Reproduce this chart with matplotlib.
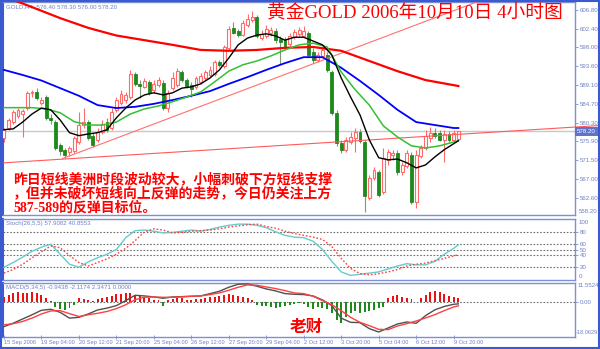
import matplotlib
matplotlib.use('Agg')
import matplotlib.pyplot as plt
import matplotlib.transforms as mtransforms
from matplotlib.patches import Rectangle
import numpy as np

# ---------------- data ----------------
opens = [576.7, 579.0, 580.4, 581.9, 582.3, 583.7, 587.3, 587.5, 584.9, 586.3,
         581.4, 580.4, 575.0, 573.9, 573.4, 573.6, 575.7, 579.7, 580.4, 577.2,
         576.2, 578.1, 580.4, 579.0, 583.3, 584.9, 585.6, 586.3, 591.7, 589.4,
         588.7, 589.9, 588.0, 589.2, 589.6, 583.7, 588.4, 589.2, 592.2, 590.3,
         589.2, 588.7, 589.9, 590.8, 591.5, 591.7, 594.6, 593.6, 597.9, 602.6,
         601.9, 600.9, 603.3, 604.5, 605.2, 600.2, 600.7, 601.4, 601.9, 600.0,
         599.7, 598.8, 600.4, 601.2, 600.7, 601.4, 596.9, 595.0, 596.0, 596.2,
         592.2, 582.6, 575.5, 573.9, 575.7, 576.7, 578.1, 575.7, 562.6, 567.3,
         568.7, 564.0, 571.5, 572.7, 573.2, 568.7, 570.1, 572.7, 561.6, 572.4,
         574.3, 576.7, 577.9, 577.9, 576.2, 577.6, 576.2, 576.4]
closes = [578.6, 580.9, 582.8, 583.3, 583.0, 587.3, 587.5, 586.1, 585.6, 581.4,
          580.9, 574.3, 573.6, 572.7, 574.3, 576.7, 579.7, 580.4, 576.7, 575.0,
          578.1, 580.0, 578.6, 582.8, 585.6, 587.0, 586.8, 591.7, 589.4, 588.9,
          590.1, 587.3, 589.4, 590.3, 583.7, 587.3, 590.8, 592.4, 590.3, 588.9,
          588.2, 590.8, 591.3, 592.2, 592.7, 594.6, 593.9, 598.1, 602.3, 601.4,
          600.9, 603.7, 604.7, 605.2, 600.7, 601.2, 602.3, 602.1, 599.7, 599.3,
          598.3, 600.7, 601.6, 602.1, 601.9, 596.2, 595.0, 596.2, 597.4, 592.7,
          582.6, 575.5, 573.9, 576.2, 576.9, 578.1, 576.0, 563.0, 567.3, 569.2,
          563.3, 572.0, 573.4, 573.2, 568.7, 570.3, 573.2, 561.6, 572.7, 574.3,
          577.2, 577.9, 577.2, 576.2, 577.6, 576.2, 577.9, 578.2]
highs = [579.0, 581.4, 583.3, 583.7, 583.5, 587.7, 588.0, 588.4, 586.3, 586.8,
         582.3, 580.9, 575.5, 574.3, 574.8, 577.2, 582.8, 583.7, 580.9, 577.9,
         579.0, 580.9, 581.4, 583.7, 586.3, 588.0, 587.5, 592.7, 592.2, 590.3,
         590.8, 590.3, 590.3, 591.0, 590.3, 588.0, 592.2, 593.2, 592.7, 590.8,
         589.9, 591.3, 592.0, 592.7, 593.6, 595.0, 595.0, 598.6, 603.0, 604.0,
         602.3, 604.5, 605.9, 606.6, 605.6, 602.1, 603.3, 602.8, 602.6, 600.7,
         600.4, 601.4, 602.3, 602.8, 603.0, 601.9, 597.9, 596.9, 598.1, 596.9,
         592.7, 583.3, 576.2, 576.9, 578.1, 579.0, 578.8, 576.2, 568.0, 569.9,
         569.2, 574.3, 574.1, 573.9, 573.9, 571.0, 573.9, 573.4, 573.9, 575.0,
         578.6, 579.3, 579.0, 578.6, 578.6, 578.3, 578.6, 578.3]
lows = [575.7, 578.6, 580.0, 581.4, 576.9, 583.3, 586.3, 585.6, 584.4, 580.9,
        580.0, 573.9, 572.7, 572.0, 572.4, 573.2, 575.3, 579.0, 576.2, 574.6,
        575.7, 577.6, 578.1, 578.6, 582.8, 584.4, 584.9, 585.9, 588.9, 586.1,
        588.4, 586.8, 587.3, 588.7, 583.3, 582.8, 588.0, 588.7, 589.9, 588.4,
        586.3, 588.2, 589.4, 590.3, 591.0, 591.3, 593.4, 593.2, 597.4, 601.2,
        600.4, 600.7, 602.8, 604.0, 600.2, 599.7, 600.2, 600.7, 599.0, 594.1,
        597.9, 598.3, 600.0, 600.7, 600.2, 595.7, 594.3, 594.6, 595.5, 592.2,
        582.1, 574.8, 573.2, 573.4, 575.3, 573.4, 575.5, 559.3, 562.1, 566.8,
        562.8, 563.5, 570.3, 571.5, 568.0, 568.0, 569.6, 561.2, 560.2, 572.0,
        573.9, 575.7, 576.7, 576.0, 571.0, 575.7, 576.0, 576.0]

# moving averages (sampled at bar numbers)
red_ma_bars = [0, 6, 12, 18, 24, 30, 36, 42, 48, 54, 60, 66, 72, 78, 84, 90, 97]
red_ma = [610.0, 607.5, 604.9, 602.6, 600.8, 599.7, 598.6, 597.4, 597.2, 597.4,
          597.9, 598.1, 597.2, 594.8, 592.4, 590.3, 588.9]
blue_ma_bars = list(range(0, 97, 4)) + [97]
blue_ma = [592.7, 591.5, 590.2, 588.4, 586.6, 584.4, 583.7, 584.0, 584.7, 585.6,
           586.6, 587.7, 589.4, 591.0, 592.7, 594.3, 595.7, 595.7, 593.2, 590.1,
           586.8, 583.3, 580.4, 579.7, 579.0, 579.0]
green_ma_bars = list(range(0, 97, 3)) + [97]
green_ma = [583.8, 583.8, 583.8, 583.5, 582.6, 580.5, 579.7, 579.7, 580.4, 582.3,
            583.5, 584.2, 585.2, 586.3, 587.5, 589.9, 592.4, 593.9, 594.8, 596.0,
            597.4, 598.6, 599.0, 598.1, 592.2, 588.0, 584.4, 579.5, 576.9, 574.8,
            574.3, 574.8, 575.7, 576.0]
black_ma_bars = list(range(0, 97, 2)) + [97]
black_ma = [578.6, 578.8, 580.4, 582.3, 583.7, 583.3, 580.9, 577.9, 577.2, 577.6,
            577.9, 578.6, 581.4, 583.7, 585.6, 586.8, 587.3, 586.8, 587.3, 588.4,
            588.7, 589.4, 590.8, 592.7, 595.5, 598.6, 600.2, 600.9, 601.2, 600.7,
            599.7, 600.4, 600.4, 599.5, 598.6, 596.2, 590.8, 586.3, 582.1, 576.2,
            572.0, 571.5, 571.7, 570.8, 569.6, 570.3, 572.2, 573.9, 575.3, 576.0]

# trend lines (bar, price) pairs
trend_low = [(0, 570.8), (127.3, 579.6)]
trend_up = [(12.5, 571.8), (102.1, 609.2)]

# stochastic (26,5,5)
osc_bars = list(range(0, 97, 2)) + [97]
stoch_main = [20, 28, 37, 47, 54, 59, 42, 25, 20, 29, 36, 42, 50, 70, 82, 83, 81, 78, 79, 81,
              83, 81, 84, 88, 91, 93, 93, 91, 87, 80, 74, 71, 70, 64, 50, 30, 12, 6, 8, 10,
              12, 17, 22, 26, 24, 24, 30, 42, 52, 58]
stoch_signal = [10, 16, 25, 36, 46, 56, 53, 40, 28, 22, 28, 34, 42, 52, 65, 80, 85, 83, 78, 79,
                81, 82, 83, 85, 88, 90, 92, 93, 89, 86, 81, 77, 74, 71, 67, 55, 35, 18, 9, 7,
                9, 12, 16, 22, 25, 27, 31, 35, 39, 41]
stoch_levels = [80, 60, 50, 40, 20]

# MACD (5,34,5)
macd_hist = [3.4, 4.4, 5.8, 6.4, 5.8, 5.8, 6.4, 5.8, 4.4, 2.4,
             1.0, -3.0, -4.2, -4.6, -3.6, -1.6, 2.4, 1.8, 1.4, 1.0,
             1.8, 2.4, 3.0, 3.8, 5.0, 5.0, 5.4, 5.4, 4.4, 3.8,
             3.4, 2.4, 1.4, 1.4, -2.2, 1.4, 1.8, 2.4, 2.4, 1.4,
             1.4, 1.8, 2.0, 2.4, 3.0, 3.4, 3.8, 4.4, 5.0, 4.4,
             3.8, 3.0, 2.4, 1.4, -1.6, -2.2, -2.2, -3.0, -3.6, -3.0,
             -2.2, -1.6, -1.0, -0.6, -1.0, -3.0, -4.2, -3.0, -3.6, -4.2,
             -6.6, -10.6, -12.2, -8.6, -6.6, -5.0, -6.6, -6.0, -5.0, -4.6,
             -3.6, -2.6, 2.4, 3.8, 4.4, 3.0, 2.4, 1.8, 0.4, 2.4,
             4.4, 6.4, 7.0, 6.4, 5.0, 3.8, 3.0, 2.35]
macd_line = [-14.6, -12.5, -10.0, -7.5, -4.8, -4.2, -6.0, -9.5, -9.0, -7.0,
             -4.6, -3.5, -2.0, 1.0, 4.2, 3.8, 3.2, 2.4, 3.2, 3.4,
             3.6, 3.8, 5.2, 6.6, 9.0, 10.8, 11.0, 9.6, 8.0, 6.8,
             5.2, 4.8, 4.6, 3.8, 1.4, -2.0, -9.5, -12.0, -12.2, -15.8,
             -17.8, -15.4, -13.0, -11.8, -12.6, -8.0, -4.5, -2.5, -1.2, -0.94]
macd_signal = [-13.5, -12.8, -11.5, -9.5, -7.0, -5.2, -5.0, -6.8, -8.5, -7.5,
               -6.6, -5.5, -3.8, -1.5, 1.5, 3.0, 3.2, 3.0, 3.0, 3.2,
               3.6, 3.8, 4.6, 5.6, 7.2, 9.0, 10.4, 10.2, 9.2, 8.2,
               7.0, 5.6, 5.2, 3.6, 1.0, -1.5, -5.0, -9.0, -12.0, -14.0,
               -16.2, -16.4, -14.2, -12.8, -11.2, -9.4, -7.4, -5.0, -2.8, -2.12]

price_ticks = [606.80, 602.40, 598.00, 593.60, 589.10, 584.70, 580.30, 575.90,
               571.50, 567.00, 562.60]
price_bottom_label = "558.20"
last_price = 578.20
date_tick_bars = [0, 8, 16, 24, 32, 40, 48, 56, 64, 72, 80, 88, 96]
date_labels = ["15 Sep 2006", "19 Sep 04:00", "20 Sep 12:00", "21 Sep 20:00",
               "25 Sep 04:00", "26 Sep 12:00", "27 Sep 20:00", "29 Sep 04:00",
               "2 Oct 12:00", "3 Oct 20:00", "5 Oct 04:00", "6 Oct 12:00",
               "9 Oct 20:00"]

title = "黄金GOLD 2006年10月10日 4小时图"
comment_lines = ["昨日短线美洲时段波动较大，小幅刺破下方短线支撑",
                 "，但并未破坏短线向上反弹的走势，今日仍关注上方",
                 "587-589的反弹目标位。"]
author = "老财"
header_main = "GOLD,H4  576.40 578.30 576.00 578.20"
header_stoch = "Stoch(26,5,5) 57.9082 40.8553"
header_macd = "MACD(5,34,5) -0.9438 -2.1174 2.3471 0.0000"

# ---------------- figure ----------------
W, H = 600, 349
fig = plt.figure(figsize=(6.0, 3.49), dpi=100)
fig.patch.set_facecolor('white')

def box(l, t, r, b):
    return [l / W, 1 - b / H, (r - l) / W, (b - t) / H]

AXC = '#7d8fd6'   # axis / label colour
TXT = '#6f80c4'
LFS = 4.4         # small label font size
XL = (-0.3, 121.9)

ax = fig.add_axes(box(2.5, 2, 575, 215))
ax_s = fig.add_axes(box(2.5, 219, 575, 280))
ax_m = fig.add_axes(box(2.5, 283, 575, 337))

for a in (ax, ax_s, ax_m):
    a.set_xlim(*XL)
    a.set_facecolor('white')
    for sp in a.spines.values():
        sp.set_color(AXC)
        sp.set_linewidth(1.0)
    a.spines['left'].set_color('#3a5ad0')
    a.spines['left'].set_linewidth(1.5)
    a.yaxis.tick_right()
    a.tick_params(axis='y', colors=AXC, labelcolor=TXT, labelsize=LFS, length=2,
                  width=0.6, pad=1.5)

# ---- main panel ----
ax.set_ylim(558.5, 608.7)
idx = np.arange(len(closes))
o = np.array(opens); c = np.array(closes); h = np.array(highs); l = np.array(lows)
up = c >= o
bull = '#ff6a6a'
bear = '#1e8a1e'
ax.vlines(idx[up], l[up], h[up], color=bull, lw=0.8, zorder=2)
ax.vlines(idx[~up], l[~up], h[~up], color='#7a9a7a', lw=0.8, zorder=2)
lo = np.minimum(o, c)
bh = np.maximum(np.abs(c - o), 0.15)
ax.bar(idx[up], bh[up], bottom=lo[up], width=0.62, facecolor='white',
       edgecolor=bull, lw=0.8, zorder=3)
ax.bar(idx[~up], bh[~up], bottom=lo[~up], width=0.62, facecolor=bear,
       edgecolor=bear, lw=0.6, zorder=3)

ax.axhline(last_price, color='#c8c8c8', lw=1.0, zorder=1)
ax.plot(*zip(*trend_low), color='#ff5a5a', lw=0.8, zorder=4, clip_on=False)
ax.plot(*zip(*trend_up), color='#ff7070', lw=0.8, zorder=4)
ax.plot(red_ma_bars, red_ma, color='#ff0000', lw=1.6, zorder=5)
ax.plot(blue_ma_bars, blue_ma, color='#0000ff', lw=1.3, zorder=5)
ax.plot(green_ma_bars, green_ma, color='#33c033', lw=1.1, zorder=5)
ax.plot(black_ma_bars, black_ma, color='#000000', lw=1.0, zorder=6)

ax.set_yticks(price_ticks)
ax.set_yticklabels([f"{v:.2f}" for v in price_ticks], family='Liberation Sans')
ax.set_xticks([])
ytrans = mtransforms.blended_transform_factory(ax.transAxes, ax.transData)
ax.text(1.006, 558.7, price_bottom_label, transform=ytrans, fontsize=LFS,
        color=TXT, va='bottom', ha='left', family='Liberation Sans')
ax.text(1.004, last_price, "578.20", transform=ytrans, fontsize=LFS, color='white',
        va='center', ha='left', family='Liberation Sans', zorder=10,
        bbox=dict(boxstyle='square,pad=0.3', facecolor='#5f73cc', edgecolor='none'),
        clip_on=False)
ax.text(0.006, 0.99, header_main, transform=ax.transAxes, fontsize=4.4,
        color=TXT, va='top', ha='left', family='Liberation Sans')

# ---- stochastic ----
ax_s.set_ylim(-1.7, 101.7)
for lv in stoch_levels:
    ax_s.axhline(lv, color='#707070', lw=0.8, ls=(0, (1.5, 1.5)), zorder=1)
ax_s.plot(osc_bars, stoch_main, color='#66cccc', lw=1.0, zorder=3)
ax_s.plot(osc_bars, stoch_signal, color='#ff4040', lw=1.0, ls=(0, (1.2, 1.4)), zorder=3)
ax_s.set_yticks(stoch_levels)
ax_s.set_yticklabels([str(v) for v in stoch_levels], family='Liberation Sans')
ax_s.set_xticks([])
st = mtransforms.blended_transform_factory(ax_s.transAxes, ax_s.transData)
ax_s.text(1.006, 100, "100", transform=st, fontsize=LFS, color=TXT, va='top',
          family='Liberation Sans')
ax_s.text(1.006, 0, "0", transform=st, fontsize=LFS, color=TXT, va='bottom',
          family='Liberation Sans')
ax_s.text(0.006, 0.97, header_stoch, transform=ax_s.transAxes, fontsize=4.4,
          color=TXT, va='top', ha='left', family='Liberation Sans')

# ---- MACD ----
ax_m.set_ylim(-20.8, 11.55)
hist = np.array(macd_hist)
hi = np.arange(len(hist))
ax_m.bar(hi[hist >= 0], hist[hist >= 0], width=0.42, color='#ee1111', zorder=2)
ax_m.bar(hi[hist < 0], hist[hist < 0], width=0.42, color='#1e8a1e', zorder=2)
ax_m.axhline(0, color='#707070', lw=0.8, ls=(0, (1.5, 1.5)), zorder=1)
ax_m.plot(osc_bars, macd_line, color='#505050', lw=1.0, zorder=3)
ax_m.plot(osc_bars, macd_signal, color='#ff4040', lw=1.0, zorder=3)
ax_m.set_yticks([0])
ax_m.set_yticklabels(["0.00"], family='Liberation Sans')
mt = mtransforms.blended_transform_factory(ax_m.transAxes, ax_m.transData)
ax_m.text(1.004, 11.55, "11.5524", transform=mt, fontsize=LFS, color=TXT, va='top',
          family='Liberation Sans')
ax_m.text(1.001, -18.06, "-18.0629", transform=mt, fontsize=4.1, color=TXT, va='center',
          family='Liberation Sans')
ax_m.text(0.006, 0.97, header_macd, transform=ax_m.transAxes, fontsize=4.4,
          color=TXT, va='top', ha='left', family='Liberation Sans')
ax_m.set_xticks(date_tick_bars)
ax_m.set_xticklabels(date_labels, ha='left', family='Liberation Sans')
ax_m.tick_params(axis='x', colors=AXC, labelcolor=TXT, labelsize=4.1, length=3,
                 width=0.6, pad=1, direction='inout')

# ---- texts ----
fig.text(267 / W, 1 - 14 / H, title, fontsize=13.5, color='#ff0000', va='center',
         ha='left', family=['Liberation Serif', 'Noto Sans CJK SC'])
ys = [179, 193, 208]
for line, yy in zip(comment_lines, ys):
    fig.text(13 / W, 1 - yy / H, line, fontsize=10, color='#ff0000', va='center',
             ha='left', fontweight='bold',
             family=['Liberation Serif', 'Noto Sans CJK SC'])
fig.text(290 / W, 1 - 327 / H, author, fontsize=12, color='#ff0000', va='center',
         ha='left', fontweight='bold', family=['Noto Sans CJK SC'])

# outer frame
fig.patches.append(Rectangle((0.001, 0.002), 0.997, 0.996, transform=fig.transFigure,
                             fill=False, edgecolor='#3a5ad0', lw=1.5))

fig.savefig('out.png', dpi=100, facecolor='white')
